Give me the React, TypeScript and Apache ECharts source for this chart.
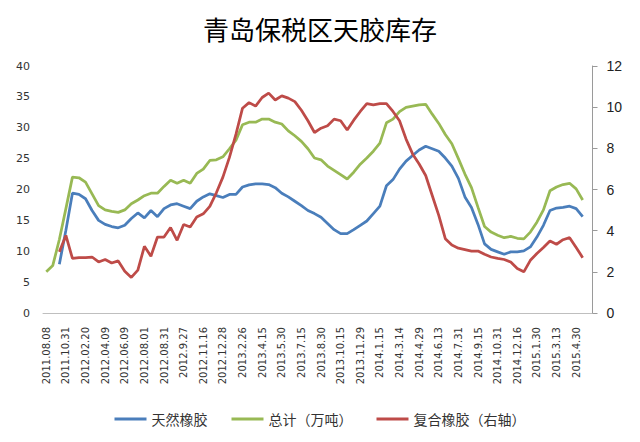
import React, { useEffect, useRef } from "react";
import * as echarts from "echarts";

const titleText = "青岛保税区天胶库存";
const seriesNames = ["天然橡胶", "总计（万吨）", "复合橡胶（右轴）"];

// tick labels shown every 3rd data point
const tickLabels = [
  "2011.08.08", "2011.10.31", "2012.02.20", "2012.04.09", "2012.06.09", "2012.08.01",
  "2012.08.31", "2012.9.27", "2012.11.16", "2012.12.28", "2013.2.26", "2013.4.15",
  "2013.5.30", "2013.7.15", "2013.8.30", "2013.10.15", "2013.11.29", "2014.1.15",
  "2014.3.14", "2014.4.29", "2014.6.13", "2014.7.31", "2014.9.15", "2014.10.31",
  "2014.12.16", "2015.1.30", "2015.3.13", "2015.4.30",
];
const labelStep = 3;
const categoryCount = 84;

// 天然橡胶 (left axis, 万吨)
const natural = [
  null, null, 7.9, 13.4, 19.4, 19.2, 18.5, 16.6, 15.0, 14.35,
  14.0, 13.8, 14.2, 15.3, 16.2, 15.4, 16.6, 15.6, 16.9, 17.5,
  17.7, 17.3, 16.9, 18.1, 18.8, 19.3, 19.0, 18.7, 19.2, 19.2,
  20.4, 20.75, 20.9, 20.9, 20.8, 20.3, 19.4, 18.8, 18.1, 17.4,
  16.6, 16.1, 15.5, 14.5, 13.5, 12.85, 12.85, 13.5, 14.2, 14.9,
  16.1, 17.3, 20.6, 21.6, 23.3, 24.6, 25.5, 26.4, 27.0, 26.6,
  26.2, 25.1, 23.8, 21.8, 18.8, 17.1, 14.35, 11.2, 10.3, 9.9,
  9.5, 9.9, 9.9, 10.05, 10.7, 12.3, 14.2, 16.6, 17.0, 17.1,
  17.3, 16.9, 15.6,
];

// 总计 (left axis, 万吨)
const total = [
  6.7, 7.7, 11.9, 16.9, 22.0, 21.9, 21.2, 19.3, 17.4, 16.7,
  16.45, 16.3, 16.7, 17.7, 18.3, 19.0, 19.4, 19.4, 20.5, 21.5,
  21.0, 21.5, 21.0, 22.6, 23.3, 24.7, 24.8, 25.3, 26.6, 28.0,
  30.5, 30.9, 30.9, 31.4, 31.4, 30.9, 30.6, 29.5, 28.7, 27.8,
  26.6, 25.1, 24.8, 23.8, 23.1, 22.4, 21.7, 22.8, 24.1, 25.1,
  26.2, 27.5, 30.8, 31.4, 32.6, 33.3, 33.5, 33.7, 33.8, 32.2,
  30.7, 28.9, 27.4, 25.0, 22.5, 20.3, 17.1, 14.0, 13.1, 12.6,
  12.2, 12.4, 12.1, 12.0, 13.1, 14.7, 16.7, 19.8, 20.4, 20.8,
  21.0, 20.1, 18.3,
];

// 复合橡胶 (right axis, 万吨)
const compound = [
  null, null, 2.97, 3.77, 2.65, 2.69, 2.69, 2.72, 2.48, 2.6,
  2.43, 2.53, 2.03, 1.73, 2.08, 3.24, 2.76, 3.69, 3.69, 4.15,
  3.53, 4.3, 4.18, 4.66, 4.82, 5.18, 5.84, 6.6, 7.56, 8.69,
  9.95, 10.22, 10.05, 10.47, 10.68, 10.35, 10.55, 10.44, 10.27, 9.85,
  9.34, 8.77, 8.98, 9.1, 9.42, 9.34, 8.89, 9.37, 9.79, 10.17,
  10.11, 10.17, 10.17, 9.79, 9.34, 8.45, 7.73, 7.24, 6.68, 5.71,
  4.74, 3.61, 3.3, 3.15, 3.08, 3.01, 3.01, 2.85, 2.72, 2.65,
  2.6, 2.48, 2.16, 2.0, 2.56, 2.89, 3.18, 3.5, 3.34, 3.56,
  3.66, 3.18, 2.69,
];

const leftAxis = { min: 0, max: 40, interval: 5 };
const rightAxis = { min: 0, max: 12, interval: 2 };

const colors = ["#4A7EBB", "#98B954", "#BE4B48"];

export default function App() {
  const ref = useRef<HTMLDivElement>(null);

  useEffect(() => {
    if (!ref.current) return;
    const chart = echarts.init(ref.current, undefined, { renderer: "svg" });
    const categories = Array.from({ length: categoryCount }, (_, i) =>
      i % labelStep === 0 && i / labelStep < tickLabels.length ? tickLabels[i / labelStep] : ""
    );
    const lineSeries = (name: string, data: (number | null)[], color: string, axis: number) => ({
      name,
      type: "line",
      yAxisIndex: axis,
      data,
      showSymbol: false,
      symbol: "none",
      connectNulls: false,
      lineStyle: { width: 2.75, color },
      itemStyle: { color },
    });
    chart.setOption({
      animation: false,
      backgroundColor: "#ffffff",
      title: {
        text: titleText,
        left: "center",
        top: 10,
        textStyle: {
          fontFamily: "Noto Sans CJK SC",
          fontSize: 26,
          fontWeight: "normal",
          color: "#000",
        },
      },
      legend: {
        data: seriesNames,
        left: "center",
        top: 407,
        icon: "rect",
        itemWidth: 32,
        itemHeight: 3,
        itemGap: 24,
        textStyle: { fontFamily: "Noto Sans CJK SC", fontSize: 14, color: "#333" },
      },
      grid: { left: 43, right: 47.5, top: 66, bottom: 129, containLabel: false },
      xAxis: {
        type: "category",
        data: categories,
        boundaryGap: true,
        axisLine: { show: true, lineStyle: { color: "#BFBFBF", width: 1 } },
        axisTick: { show: false },
        axisLabel: {
          interval: 0,
          rotate: 90,
          margin: 14,
          fontFamily: "DejaVu Sans",
          fontSize: 10,
          color: "#333",
        },
        splitLine: { show: false },
      },
      yAxis: [
        {
          type: "value",
          ...leftAxis,
          axisLine: { show: false },
          axisTick: { show: false },
          splitLine: { show: false },
          axisLabel: { fontFamily: "DejaVu Sans", fontSize: 11, color: "#333", margin: 13 },
        },
        {
          type: "value",
          ...rightAxis,
          position: "right",
          axisLine: { show: true, lineStyle: { color: "#9A9A9A", width: 1 } },
          axisTick: { show: true, inside: false, length: 5, lineStyle: { color: "#9A9A9A" } },
          splitLine: { show: false },
          axisLabel: { fontFamily: "Liberation Sans", fontSize: 14, color: "#222", margin: 14 },
        },
      ],
      series: [
        lineSeries(seriesNames[0], natural, colors[0], 0),
        lineSeries(seriesNames[1], total, colors[1], 0),
        lineSeries(seriesNames[2], compound, colors[2], 1),
      ],
    });
    return () => chart.dispose();
  }, []);

  return (
    <div
      ref={ref}
      style={{ position: "fixed", left: 0, top: 0, width: 640, height: 442, background: "#fff" }}
    />
  );
}
